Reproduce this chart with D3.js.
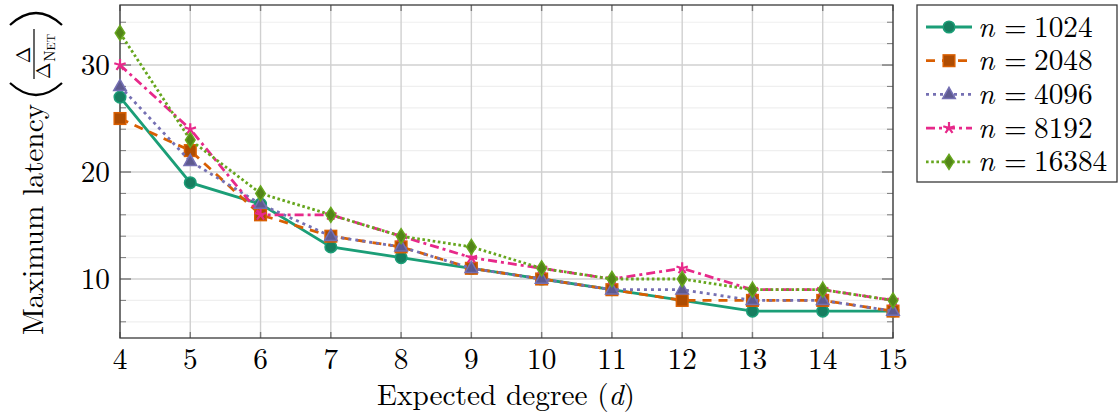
<!DOCTYPE html>
<html><head><meta charset="utf-8">
<script src="https://cdn.jsdelivr.net/npm/d3@7"></script>
<style>
body{margin:0;background:#fff;}
svg{display:block;}
svg text{font-family:'Latin Modern Roman','CMU Serif','Liberation Serif',serif;}
</style></head>
<body><svg id="chart" width="1119" height="419"></svg>
<script>
const degrees = [4,5,6,7,8,9,10,11,12,13,14,15];
const seriesNames = ["1024","2048","4096","8192","16384"];
const lat1024  = [27,19,17,13,12,11,10,9,8,7,7,7];
const lat2048  = [25,22,16,14,13,11,10,9,8,8,8,7];
const lat4096  = [28,21,17,14,13,11,10,9,9,8,8,7];
const lat8192  = [30,24,16,16,14,12,11,10,11,9,9,8];
const lat16384 = [33,23,18,16,14,13,11,10,10,9,9,8];
const xTicks = [4,5,6,7,8,9,10,11,12,13,14,15];
const yTicks = [10,20,30];
const yMinorTicks = [6,8,12,14,16,18,22,24,26,28,32,34];

const seriesValues = [lat1024, lat2048, lat4096, lat8192, lat16384];
const colors = ["#1b9e77","#d95f02","#7570b3","#e7298a","#66a61e"];
const dashes = [null, "9,7", "3,4", "9,4,3,4", "2.6,2.6"];

const svg = d3.select("#chart");
const L=120, R=893, T=5, B=338;
const x = d3.scaleLinear().domain([4,15]).range([L,R]);
const y = d3.scaleLinear().domain([4.486,35.61]).range([B,T]);
const FS = 29.3;

// grid
const g = svg.append("g");
g.selectAll(".ymin").data(yMinorTicks).join("line")
  .attr("x1",L).attr("x2",R).attr("y1",d=>y(d)).attr("y2",d=>y(d))
  .attr("stroke","#efefef").attr("stroke-width",1.2);
g.selectAll(".ymaj").data(yTicks).join("line")
  .attr("x1",L).attr("x2",R).attr("y1",d=>y(d)).attr("y2",d=>y(d))
  .attr("stroke","#d0d0d0").attr("stroke-width",1.4);
g.selectAll(".xmaj").data(xTicks).join("line")
  .attr("x1",d=>x(d)).attr("x2",d=>x(d)).attr("y1",T).attr("y2",B)
  .attr("stroke","#d0d0d0").attr("stroke-width",1.4);

// ticks (inward)
const tk = svg.append("g").attr("stroke","#7a7a7a");
xTicks.forEach(d=>{
  tk.append("line").attr("x1",x(d)).attr("x2",x(d)).attr("y1",B).attr("y2",B-6).attr("stroke-width",1.4);
  tk.append("line").attr("x1",x(d)).attr("x2",x(d)).attr("y1",T).attr("y2",T+6).attr("stroke-width",1.4);
});
yTicks.forEach(d=>{
  tk.append("line").attr("x1",L).attr("x2",L+11).attr("y1",y(d)).attr("y2",y(d)).attr("stroke-width",1.4);
  tk.append("line").attr("x1",R).attr("x2",R-11).attr("y1",y(d)).attr("y2",y(d)).attr("stroke-width",1.4);
});
yMinorTicks.forEach(d=>{
  tk.append("line").attr("x1",L).attr("x2",L+6).attr("y1",y(d)).attr("y2",y(d)).attr("stroke-width",1);
  tk.append("line").attr("x1",R).attr("x2",R-6).attr("y1",y(d)).attr("y2",y(d)).attr("stroke-width",1);
});

// frame
svg.append("rect").attr("x",L).attr("y",T).attr("width",R-L).attr("height",B-T)
  .attr("fill","none").attr("stroke","#3a3a3a").attr("stroke-width",1.3);

// tick labels
svg.append("g").selectAll("text").data(xTicks).join("text")
  .attr("x",d=>x(d)).attr("y",369).attr("text-anchor","middle")
  .attr("font-size",FS).text(d=>d);
svg.append("g").selectAll("text").data(yTicks).join("text")
  .attr("x",110).attr("y",d=>y(d)+9.5).attr("text-anchor","end")
  .attr("font-size",FS).text(d=>d);

// x label
const xl = svg.append("text").attr("x",506).attr("y",405).attr("text-anchor","middle").attr("font-size",FS);
xl.append("tspan").text("Expected degree (");
xl.append("tspan").attr("font-style","italic").text("d");
xl.append("tspan").text(")");

// y label (rotated)
const yl = svg.append("g").attr("transform","rotate(-90)");
yl.append("text").attr("x",-335).attr("y",43).attr("font-size",FS).text("Maximum latency");
yl.append("path").attr("d","M -83,10 Q -107,36 -83,62").attr("fill","none").attr("stroke","#000").attr("stroke-width",2.2);
yl.append("path").attr("d","M -25,10 Q -1,36 -25,62").attr("fill","none").attr("stroke","#000").attr("stroke-width",2.2);
yl.append("text").attr("x",-55).attr("y",30).attr("text-anchor","middle").attr("font-size",20).text("Δ");
yl.append("line").attr("x1",-79).attr("x2",-29).attr("y1",34).attr("y2",34).attr("stroke","#000").attr("stroke-width",1.2);
const den = yl.append("text").attr("x",-79).attr("y",50).attr("font-size",20);
den.append("tspan").text("Δ");
den.append("tspan").attr("font-size",15).attr("dy",5).attr("dx",0.5).text("N");
den.append("tspan").attr("font-size",12).text("ET");

// series
function marker(sel, i, cx, cy){
  const c = colors[i];
  const fill = d3.interpolateRgb(c,"#000")(0.2);
  const m = sel.append("g").attr("transform",`translate(${cx},${cy})`);
  if(i===0){
    m.append("circle").attr("r",5.8).attr("fill",fill).attr("stroke",c).attr("stroke-width",1.5);
  } else if(i===1){
    m.append("rect").attr("x",-5.8).attr("y",-5.8).attr("width",11.6).attr("height",11.6)
      .attr("fill",fill).attr("stroke",c).attr("stroke-width",1.5);
  } else if(i===2){
    m.append("path").attr("d","M0,-7 L6.3,4.2 L-6.3,4.2 Z").attr("fill",fill).attr("stroke",c).attr("stroke-width",1.5);
  } else if(i===3){
    let d="";
    for(let k=0;k<5;k++){const a=-Math.PI/2+k*2*Math.PI/5; d+=`M0,0 L${(6*Math.cos(a)).toFixed(2)},${(6*Math.sin(a)).toFixed(2)} `;}
    m.append("path").attr("d",d).attr("fill","none").attr("stroke",c).attr("stroke-width",2.2);
  } else {
    m.append("path").attr("d","M0,-7.5 L4.8,0 L0,7.5 L-4.8,0 Z").attr("fill",fill).attr("stroke",c).attr("stroke-width",1.5);
  }
}
const line = d3.line().x((d,j)=>x(degrees[j])).y(d=>y(d));
seriesValues.forEach((vals,i)=>{
  const sg = svg.append("g");
  sg.append("path").attr("d",line(vals)).attr("fill","none")
    .attr("stroke",colors[i]).attr("stroke-width",2.8)
    .attr("stroke-dasharray",dashes[i]);
  vals.forEach((v,j)=>marker(sg,i,x(degrees[j]),y(v)));
});

// legend
svg.append("rect").attr("x",917).attr("y",5).attr("width",200).attr("height",177)
  .attr("fill","#fff").attr("stroke","#3a3a3a").attr("stroke-width",1.3);
seriesNames.forEach((nm,i)=>{
  const cy = 27 + i*33.7;
  const lg = svg.append("g");
  lg.append("line").attr("x1",926).attr("x2",972).attr("y1",cy).attr("y2",cy)
    .attr("stroke",colors[i]).attr("stroke-width",2.8).attr("stroke-dasharray",dashes[i]);
  marker(lg,i,949,cy);
  const t = lg.append("text").attr("x",978).attr("y",cy+9.5).attr("font-size",FS);
  t.append("tspan").attr("font-style","italic").text("n");
  t.append("tspan").attr("x",1004).text("=");
  t.append("tspan").attr("x",1034).text(nm);
});
</script></body></html>
